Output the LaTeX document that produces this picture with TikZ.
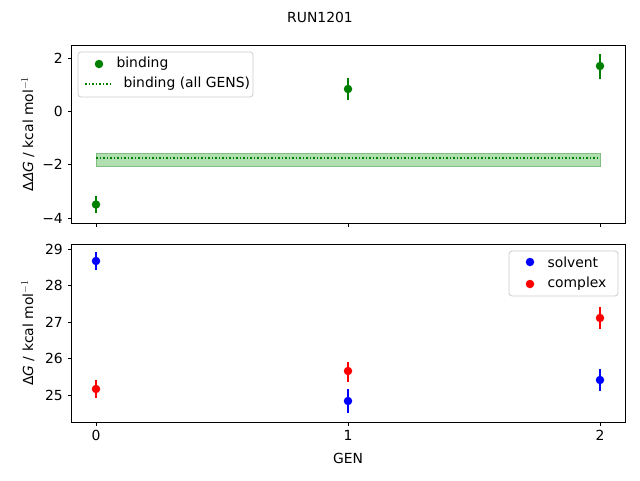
\documentclass[tikz,border=0pt]{standalone}
\usepackage{fontspec}
\setmainfont{DejaVu Sans}
\usetikzlibrary{positioning}
\definecolor{mplgreen}{RGB}{0,128,0}
\definecolor{bandgreen}{RGB}{178,223,178}
\tikzset{
  every node/.style={font=\fontsize{13.9}{16}\selectfont},
  tick/.style={line width=0.8pt},
  dot/.style={circle,inner sep=0pt,minimum size=8.5pt},
  errbar/.style={line width=2pt},
  legbox/.style={draw=black!20,fill=white,rounded corners=3pt,line width=0.8pt}
}
\begin{document}
\begin{tikzpicture}[x=1pt,y=-1pt]
\useasboundingbox (0,0) rectangle (640,480);
\node (title) at (320,17) {RUN1201};
% top panel: band and dotted line
\fill[bandgreen,draw=mplgreen!50] (96,153) rectangle (600,166);
\draw[mplgreen,dotted,line width=1.5pt] (96,158) -- (600,158);
% top panel points
\foreach \x/\y/\lo/\hi [count=\i] in {96/204.5/196/213,348/89/78/100,600/66/54/79}{
  \draw[errbar,mplgreen] (\x,\lo) -- (\x,\hi);
  \node[dot,fill=mplgreen] (bind\i) at (\x,\y) {};
}
\draw[line width=0.8pt] (71,45) rectangle (625,223);
\foreach \v/\y in {2/58,0/111,−2/164,−4/218}{
  \draw[tick] (71,\y) -- ++(-3.5,0) node[left=1pt] {\v};
}
\foreach \x in {96,348,600}{\draw[tick] (\x,223) -- ++(0,3.5);}
\node[rotate=90] (ylabtop) at (28,134) {Δ\emph{ΔG} / kcal mol$^{-1}$};
% top legend
\draw[legbox] (78,52) rectangle (253,97);
\node[dot,fill=mplgreen] (legbind) at (99,64) {};
\node[right=14pt of legbind.center,anchor=west] {binding};
\draw[mplgreen,dotted,line width=1.5pt] (85,84) -- (113,84) coordinate (legall);
\node[right=7pt of legall,anchor=west] {binding (all GENS)};
% bottom panel points
\foreach \x/\y/\lo/\hi [count=\i] in {96/261/252/270,348/401/389/413,600/380/369/391}{
  \draw[errbar,blue] (\x,\lo) -- (\x,\hi);
  \node[dot,fill=blue] (solv\i) at (\x,\y) {};
}
\foreach \x/\y/\lo/\hi [count=\i] in {96/389/380/398,348/371/362/382,600/318/307/329}{
  \draw[errbar,red] (\x,\lo) -- (\x,\hi);
  \node[dot,fill=red] (comp\i) at (\x,\y) {};
}
\draw[line width=0.8pt] (71,244) rectangle (625,422);
\foreach \v [count=\i from 0] in {25,...,29}{
  \draw[tick] (71,395-36.5*\i) -- ++(-3.5,0) node[left=1pt] {\v};
}
\foreach \x/\g in {96/0,348/1,600/2}{
  \draw[tick] (\x,422) -- ++(0,3.5) node[below=1pt] {\g};
}
\node[rotate=90] (ylabbot) at (28,333) {Δ\emph{G} / kcal mol$^{-1}$};
\node (xlab) at (348,458) {GEN};
% bottom legend
\draw[legbox] (509,251) rectangle (618,296);
\node[dot,fill=blue] (legsolv) at (530,262) {};
\node[right=14pt of legsolv.center,anchor=west] {solvent};
\node[dot,fill=red] (legcomp) at (530,284) {};
\node[right=14pt of legcomp.center,anchor=west] {complex};
\end{tikzpicture}
\end{document}
